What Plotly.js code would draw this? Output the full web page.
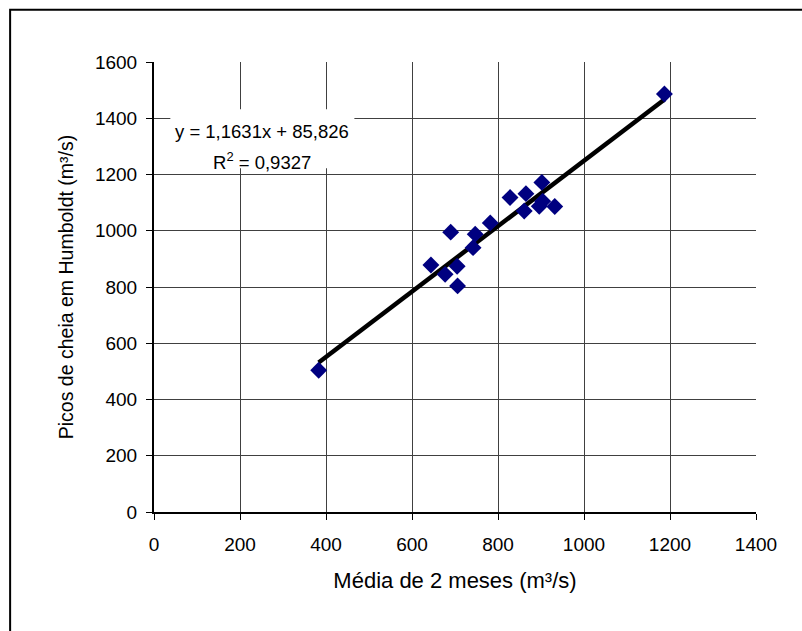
<!DOCTYPE html>
<html>
<head>
<meta charset="utf-8">
<script src="https://cdn.plot.ly/plotly-3.0.1.min.js"></script>
<style>
html,body{margin:0;padding:0;background:#fff;}
#chart{width:802px;height:631px;}
</style>
</head>
<body>
<div id="chart"></div>
<script>
// Data
const mediaDoisMeses = [383, 644, 677, 690, 705, 706, 742, 747, 782, 828, 861, 865, 896, 902, 904, 932, 1187];
const picosCheia   = [504, 878, 845, 995, 874, 804, 940, 988, 1028, 1118, 1070, 1132, 1087, 1172, 1105, 1086, 1486];
const trendSlope = 1.1631;
const trendIntercept = 85.826;
const equationLine1 = 'y = 1,1631x + 85,826';
const equationLine2 = 'R<sup>2</sup> = 0,9327';
const xTitle = 'Média de 2 meses (m³/s)';
const yTitle = 'Picos de cheia em Humboldt (m³/s)';

const xMin = Math.min(...mediaDoisMeses);
const xMax = Math.max(...mediaDoisMeses);
const trendX = [xMin, xMax];
const trendY = trendX.map(v => trendSlope * v + trendIntercept);

const font = 'Liberation Sans, Arial, sans-serif';

const traces = [
  {
    x: trendX, y: trendY, type: 'scatter', mode: 'lines',
    line: {color: '#000000', width: 4.5},
    hoverinfo: 'skip', showlegend: false
  },
  {
    x: mediaDoisMeses, y: picosCheia, type: 'scatter', mode: 'markers',
    marker: {symbol: 'diamond', size: 13, color: '#000080', line: {width: 0}},
    showlegend: false
  }
];

const layout = {
  width: 802, height: 631,
  margin: {l: 154, r: 46, t: 62, b: 119},
  paper_bgcolor: '#ffffff', plot_bgcolor: '#ffffff',
  font: {family: font, color: '#000000', size: 19},
  showlegend: false,
  xaxis: {
    range: [0, 1400], dtick: 200, tick0: 0,
    showgrid: true, gridcolor: '#404040', gridwidth: 1,
    showline: true, linecolor: '#000000', linewidth: 2,
    ticks: 'outside', ticklen: 6, tickcolor: '#000000', tickwidth: 1,
    ticklabelstandoff: 8,
    zeroline: false,
    tickfont: {family: font, size: 19, color: '#000'},
    title: {text: xTitle, font: {family: font, size: 22, color: '#000'}, standoff: 19}
  },
  yaxis: {
    range: [0, 1600], dtick: 200, tick0: 0,
    showgrid: true, gridcolor: '#404040', gridwidth: 1,
    showline: true, linecolor: '#000000', linewidth: 2,
    ticks: 'outside', ticklen: 6, tickcolor: '#000000', tickwidth: 1,
    ticklabelstandoff: 5,
    zeroline: false,
    tickfont: {family: font, size: 19, color: '#000'},
    title: {text: yTitle, font: {family: font, size: 19.5, color: '#000'}, standoff: 16}
  },
  annotations: [
    {
      xref: 'paper', yref: 'paper',
      x: 0.1794, y: (512 - 131) / 450, xanchor: 'center', yanchor: 'middle',
      text: equationLine1, showarrow: false,
      font: {family: font, size: 18.5, color: '#000'}
    },
    {
      xref: 'paper', yref: 'paper',
      x: 0.1794, y: (512 - 161) / 450, xanchor: 'center', yanchor: 'middle',
      text: equationLine2, showarrow: false,
      font: {family: font, size: 18.5, color: '#000'}
    }
  ],
  shapes: [
    {
      type: 'rect', xref: 'x', yref: 'y',
      x0: 38, x1: 466, y0: 1222, y1: 1432,
      line: {width: 0}, fillcolor: '#ffffff', layer: 'between'
    },
    {
      type: 'rect', xref: 'paper', yref: 'paper',
      x0: -0.239, x1: 1.2, y0: -0.5, y1: 1.116,
      line: {color: '#000000', width: 2}, fillcolor: 'rgba(0,0,0,0)',
      layer: 'below'
    }
  ]
};

Plotly.newPlot('chart', traces, layout, {displayModeBar: false, staticPlot: true});
</script>
</body>
</html>
